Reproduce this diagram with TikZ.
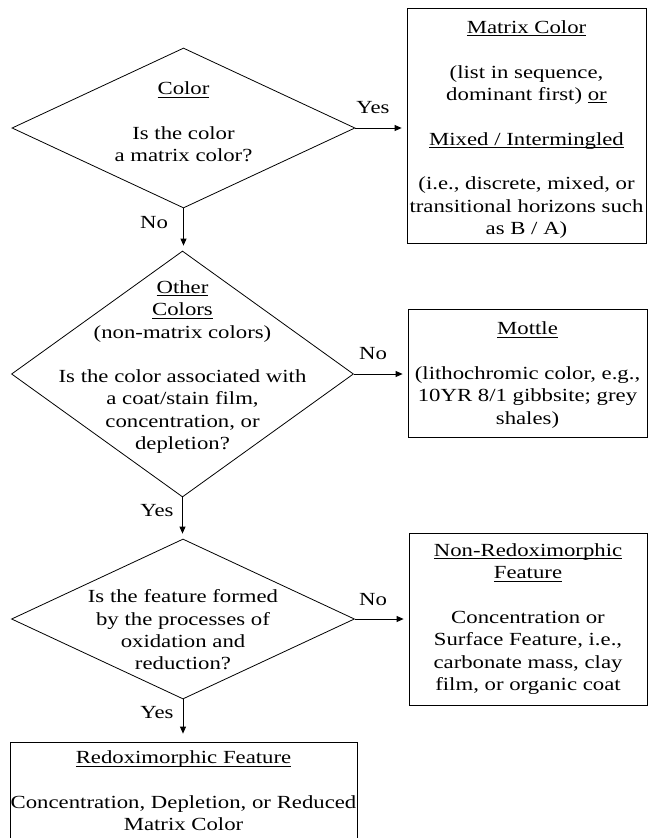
\documentclass[tikz,border=0pt]{standalone}
\usepackage{fontspec}
\setmainfont{Liberation Serif}[FakeStretch=1.23]
\usetikzlibrary{shapes.geometric,arrows.meta}
\newcommand{\myul}[1]{\setbox0\hbox{#1}\rlap{\rule[-2.6pt]{\wd0}{0.8pt}}\box0}
\tikzset{
  txt/.style={font=\fontsize{18.5pt}{22.3pt}\selectfont, align=center, inner sep=0pt},
  dec/.style={diamond, draw, line width=0.8pt, inner sep=0pt},
  outbox/.style={rectangle, draw, line width=0.8pt, txt},
  lbl/.style={font=\fontsize{18.5pt}{22.3pt}\selectfont, inner sep=0pt},
  arr/.style={line width=0.8pt, -{Triangle[length=7pt,width=6pt]}, shorten >=5pt}
}
\begin{document}
\begin{tikzpicture}[x=1pt,y=-1pt]
\useasboundingbox (0,0) rectangle (648,838);
% decisions
\node[dec, minimum width=343pt, minimum height=160pt] (d1) at (183.5,128) {};
\node[txt] (t1) at (183.5,122) {\myul{Color}\\[22.3pt]Is the color\\a matrix color?};
\node[dec, minimum width=342pt, minimum height=246pt] (d2) at (182.5,374) {};
\node[txt] (t2) at (182.5,367) {\myul{Other}\\\myul{Colors}\\(non-matrix colors)\\[22.3pt]Is the color associated with\\a coat/stain film,\\concentration, or\\depletion?};
\node[dec, minimum width=343pt, minimum height=160pt] (d3) at (183,619) {};
\node[txt] (t3) at (183,630) {Is the feature formed\\by the processes of\\oxidation and\\reduction?};
% outcomes
\node[outbox, minimum width=239pt, minimum height=235pt] (m) at (526.5,125.5) {};
\node[txt] (mt) at (526.5,129.5)
  {\myul{Matrix Color}\\[22.3pt](list in sequence,\\dominant first) \myul{or}\\[22.3pt]\myul{Mixed / Intermingled}\\[22.3pt](i.e., discrete, mixed, or\\transitional horizons such\\as B / A)};
\node[outbox, minimum width=239pt, minimum height=128pt] (mo) at (527.5,373) {};
\node[txt] (mot) at (527.5,375)
  {\myul{Mottle}\\[22.3pt](lithochromic color, e.g.,\\10YR 8/1 gibbsite; grey\\shales)};
\node[outbox, minimum width=238pt, minimum height=172pt] (nr) at (528,619)
  {\myul{Non-Redoximorphic}\\\myul{Feature}\\[22.3pt]Concentration or\\Surface Feature, i.e.,\\carbonate mass, clay\\film, or organic coat};
\node[outbox, minimum width=347pt, minimum height=98pt] (rf) at (183.5,791)
  {\myul{Redoximorphic Feature}\\[22.3pt]Concentration, Depletion, or Reduced\\Matrix Color};
% connectors
\draw[arr] (d1.east) -- (d1.east -| m.west);
\draw[arr] (d1.south) -- (d1.south |- d2.north);
\draw[arr] (d2.east) -- (d2.east -| mo.west);
\draw[arr] (d2.south) -- (d2.south |- d3.north);
\draw[arr] (d3.east) -- (d3.east -| nr.west);
\draw[arr, shorten >=8pt] (d3.south) -- (d3.south |- rf.north);
% labels
\node[lbl] (y1) at (373,108) {Yes};
\node[lbl] (n1) at (154,223) {No};
\node[lbl] (n2) at (373,354) {No};
\node[lbl] (y2) at (157,511) {Yes};
\node[lbl] (n3) at (373,600) {No};
\node[lbl] (y3) at (157,713) {Yes};
\end{tikzpicture}
\end{document}
